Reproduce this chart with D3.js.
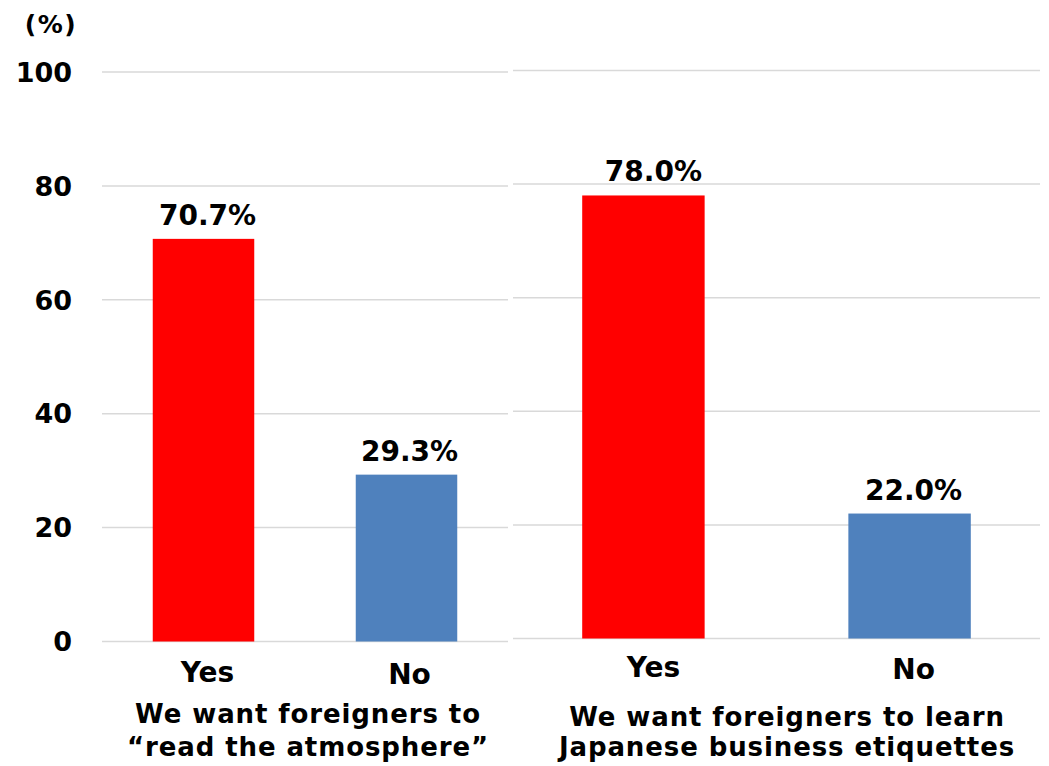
<!DOCTYPE html>
<html>
<head>
<meta charset="utf-8">
<script src="https://cdn.jsdelivr.net/npm/d3@7"></script>
<style>
  body { margin: 0; background: #fff; }
  svg text { font-family: "DejaVu Sans", Verdana, sans-serif; font-weight: bold; fill: #000; }
</style>
</head>
<body>
<div id="chart"></div>
<script>
// Data
const answers = ["Yes", "No"];
const leftValues = [70.7, 29.3];
const rightValues = [78.0, 22.0];
const leftTitle = ["We want foreigners to", "\u201cread the atmosphere\u201d"];
const rightTitle = ["We want foreigners to learn", "Japanese business etiquettes"];
const yTicks = [0, 20, 40, 60, 80, 100];
const barColors = ["#ff0000", "#4f81bd"];

const W = 1049, H = 766;

const svg = d3.select("#chart")
    .append("svg")
    .attr("width", W)
    .attr("height", H);

// Unit label
svg.append("text")
    .attr("x", 51)
    .attr("y", 33)
    .attr("text-anchor", "middle")
    .style("font-size", "25px")
    .style("letter-spacing", "1.5px")
    .text("(%)");

// Draw one panel
function drawPanel(cfg) {
    const y = d3.scaleLinear().domain([0, 100]).range(cfg.yRange);
    const x = d3.scaleBand()
        .domain(answers)
        .range(cfg.xRange)
        .paddingInner(cfg.padIn)
        .paddingOuter(cfg.padOut);

    const g = svg.append("g");

    // gridlines
    g.selectAll("line.grid")
        .data(yTicks)
        .enter()
        .append("line")
        .attr("class", "grid")
        .attr("x1", cfg.xRange[0])
        .attr("x2", cfg.xRange[1])
        .attr("y1", d => y(d))
        .attr("y2", d => y(d))
        .attr("stroke", "#d9d9d9")
        .attr("stroke-width", 1.5);

    // bars
    g.selectAll("rect")
        .data(cfg.values)
        .enter()
        .append("rect")
        .attr("x", (d, i) => x(answers[i]))
        .attr("y", d => y(d))
        .attr("width", x.bandwidth())
        .attr("height", d => y(0) - y(d))
        .attr("fill", (d, i) => barColors[i]);

    // value labels
    g.selectAll("text.val")
        .data(cfg.values)
        .enter()
        .append("text")
        .attr("class", "val")
        .attr("x", (d, i) => x(answers[i]) + x.bandwidth() / 2 + cfg.labelShift[i])
        .attr("y", d => y(d) - 14)
        .attr("text-anchor", "middle")
        .style("font-size", "28px")
        .text(d => d.toFixed(1) + "%");

    // category labels
    g.selectAll("text.cat")
        .data(answers)
        .enter()
        .append("text")
        .attr("class", "cat")
        .attr("x", (d, i) => x(d) + x.bandwidth() / 2 + cfg.labelShift[i])
        .attr("y", (d, i) => y(0) + cfg.catDy[i])
        .attr("text-anchor", "middle")
        .style("font-size", "28px")
        .text(d => d);

    // panel title
    g.selectAll("text.title")
        .data(cfg.title)
        .enter()
        .append("text")
        .attr("class", "title")
        .attr("x", cfg.titleX)
        .attr("y", (d, i) => cfg.titleY[i])
        .attr("text-anchor", "middle")
        .style("font-size", "26px")
        .style("letter-spacing", "0.9px")
        .text(d => d);

    return y;
}

const yLeft = drawPanel({
    values: leftValues,
    yRange: [641.5, 72],
    xRange: [102, 508],
    padIn: 0.5,
    padOut: 0.25,
    labelShift: [4, 3],
    catDy: [40, 42],
    title: leftTitle,
    titleX: 308,
    titleY: [723, 756]
});

drawPanel({
    values: rightValues,
    yRange: [638.5, 70.5],
    xRange: [513, 1040],
    padIn: 0.54,
    padOut: 0.26,
    labelShift: [10, 4],
    catDy: [38, 40],
    title: rightTitle,
    titleX: 787,
    titleY: [726, 756]
});

// y axis tick labels (left panel)
svg.selectAll("text.tick")
    .data(yTicks)
    .enter()
    .append("text")
    .attr("class", "tick")
    .attr("x", 72)
    .attr("y", d => yLeft(d))
    .attr("dy", "0.36em")
    .attr("text-anchor", "end")
    .style("font-size", "27px")
    .text(d => d);
</script>
</body>
</html>
